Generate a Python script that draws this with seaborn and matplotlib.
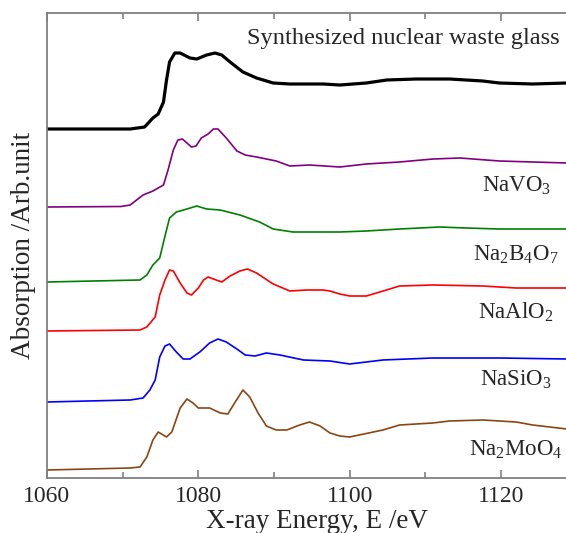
import numpy as np
import pandas as pd
import seaborn as sns
import matplotlib.pyplot as plt

# Na K-edge XANES (edge-normalised, baseline 0)
e_glass = [1060, 1071.0, 1072.9, 1074.0, 1074.7, 1075.4, 1075.8, 1076.2, 1076.9, 1077.6,
           1078.9, 1079.8, 1081.1, 1082.2, 1083.1, 1084.2, 1085.9, 1087.7, 1089.9, 1092.1,
           1094.7, 1096.5, 1098.7, 1102.2, 1104.9, 1108.8, 1113.2, 1117.6, 1119.8, 1124.2,
           1128.7]
a_glass = [0, 0, 0.02, 0.11, 0.15, 0.27, 0.49, 0.67, 0.76, 0.76,
           0.71, 0.70, 0.74, 0.76, 0.74, 0.67, 0.57, 0.51, 0.46, 0.45,
           0.45, 0.45, 0.44, 0.46, 0.49, 0.50, 0.50, 0.48, 0.46, 0.45,
           0.46]

e_navo3 = [1060, 1069.8, 1071.0, 1072.7, 1074.0, 1075.4, 1076.0, 1076.7, 1077.3, 1077.9,
           1078.5, 1079.1, 1079.7, 1080.4, 1081.3, 1082.0, 1082.6, 1083.7, 1085.1, 1086.2,
           1087.7, 1090.3, 1092.1, 1094.7, 1098.7, 1102.2, 1106.6, 1111.0, 1114.6, 1119.8,
           1124.2, 1128.7]
a_navo3 = [0, 0.005, 0.02, 0.12, 0.16, 0.22, 0.37, 0.57, 0.67, 0.68,
           0.64, 0.60, 0.61, 0.69, 0.73, 0.78, 0.78, 0.69, 0.56, 0.52,
           0.50, 0.46, 0.41, 0.42, 0.40, 0.43, 0.45, 0.48, 0.49, 0.46,
           0.45, 0.44]

e_borate = [1060, 1072.3, 1073.2, 1074.0, 1074.9, 1075.6, 1076.2, 1077.1, 1078.5, 1079.8,
            1081.1, 1082.9, 1085.5, 1088.1, 1089.9, 1092.5, 1096.0, 1098.7, 1102.2, 1106.6,
            1111.9, 1115.4, 1119.8, 1128.7]
a_borate = [0, 0.02, 0.07, 0.17, 0.24, 0.46, 0.64, 0.70, 0.73, 0.76,
            0.73, 0.72, 0.67, 0.60, 0.53, 0.50, 0.50, 0.50, 0.51, 0.53,
            0.55, 0.54, 0.53, 0.53]

e_alo2 = [1060, 1072.3, 1073.2, 1074.3, 1074.9, 1075.6, 1076.2, 1076.7, 1077.6, 1078.5,
          1079.1, 1080.0, 1080.7, 1081.3, 1082.0, 1083.1, 1084.2, 1085.5, 1086.5, 1087.7,
          1089.9, 1092.1, 1094.3, 1096.5, 1097.4, 1098.7, 1100.0, 1102.2, 1104.0, 1106.6,
          1111.0, 1117.6, 1122.0, 1128.7]
a_alo2 = [0, 0.01, 0.04, 0.14, 0.36, 0.51, 0.61, 0.60, 0.48, 0.38,
          0.36, 0.43, 0.51, 0.54, 0.52, 0.49, 0.55, 0.60, 0.62, 0.58,
          0.47, 0.40, 0.41, 0.41, 0.40, 0.37, 0.35, 0.35, 0.39, 0.45,
          0.46, 0.45, 0.43, 0.43]

e_sio3 = [1060, 1071.0, 1072.7, 1073.6, 1074.3, 1074.9, 1075.6, 1076.2, 1077.1, 1078.0,
          1078.9, 1080.2, 1081.5, 1082.6, 1083.7, 1085.1, 1086.2, 1087.5, 1089.0, 1090.8,
          1093.9, 1097.4, 1100.0, 1104.4, 1111.0, 1119.8, 1128.7]
a_sio3 = [0, 0.02, 0.04, 0.12, 0.22, 0.45, 0.56, 0.58, 0.50, 0.43,
          0.43, 0.50, 0.59, 0.63, 0.60, 0.53, 0.47, 0.46, 0.49, 0.47,
          0.42, 0.41, 0.38, 0.42, 0.44, 0.44, 0.43]

e_moo4 = [1060, 1071.0, 1072.3, 1073.2, 1074.0, 1074.7, 1075.8, 1076.5, 1077.6, 1078.5,
          1079.3, 1080.0, 1081.5, 1082.9, 1083.9, 1084.8, 1085.9, 1086.8, 1087.9, 1089.0,
          1090.3, 1091.7, 1093.4, 1094.7, 1096.1, 1097.4, 1098.7, 1100.0, 1104.4, 1106.6,
          1111.0, 1113.2, 1117.6, 1122.0, 1124.2, 1128.7]
a_moo4 = [0, 0.02, 0.03, 0.13, 0.30, 0.38, 0.33, 0.38, 0.62, 0.71,
          0.67, 0.62, 0.62, 0.57, 0.56, 0.67, 0.80, 0.73, 0.57, 0.44,
          0.40, 0.40, 0.45, 0.48, 0.44, 0.37, 0.34, 0.33, 0.40, 0.45,
          0.47, 0.49, 0.50, 0.48, 0.45, 0.41]

names = ["Synthesized nuclear waste glass", "NaVO$_3$", "Na$_2$B$_4$O$_7$",
         "NaAlO$_2$", "NaSiO$_3$", "Na$_2$MoO$_4$"]
offsets = [3.49, 2.71, 1.96, 1.47, 0.76, 0.08]
energies = [e_glass, e_navo3, e_borate, e_alo2, e_sio3, e_moo4]
absorb = [a_glass, a_navo3, a_borate, a_alo2, a_sio3, a_moo4]

colors = ["black", "#800080", "#008000", "#ff0000", "#0000ff", "#8b4513"]
widths = [2.3, 1.2, 1.2, 1.2, 1.2, 1.2]
# label anchor in axes fraction
label_pos = [(0.988, 0.946, "right"), (0.904, 0.628, "center"), (0.904, 0.480, "center"),
             (0.904, 0.357, "center"), (0.904, 0.211, "center"), (0.904, 0.060, "center")]
label_size = [17.6, 16.5, 16.5, 16.5, 16.5, 16.5]

sns.set_style("ticks")
plt.rcParams["font.family"] = ["Liberation Serif", "DejaVu Serif"]
plt.rcParams["mathtext.fontset"] = "custom"
plt.rcParams["mathtext.rm"] = "Liberation Serif"
plt.rcParams["mathtext.it"] = "Liberation Serif:italic"

fig = plt.figure(figsize=(5.66, 5.33), dpi=100)
ax = fig.add_axes([0.083, 0.1032, 0.917, 0.8724])

for i in range(len(names)):
    df = pd.DataFrame({"E": energies[i], "A": np.array(absorb[i]) + offsets[i]})
    sns.lineplot(data=df, x="E", y="A", color=colors[i], lw=widths[i], ax=ax)
    x, y, ha = label_pos[i]
    ax.text(x, y, names[i], transform=ax.transAxes, ha=ha, va="center",
            fontsize=label_size[i])

ax.set_xlim(1060, 1128.6)
ax.set_ylim(0, 4.65)
ax.set_xticks([1060, 1080, 1100, 1120])
ax.set_xticks([1070, 1090, 1110], minor=True)
ax.set_yticks([])
ax.tick_params(axis="x", which="both", direction="in", top=True, color="gray",
               labelsize=17, pad=6)
ax.tick_params(axis="x", which="major", length=6, width=1.2)
ax.tick_params(axis="x", which="minor", length=4, width=1.2)
for s in ["left", "top", "bottom"]:
    ax.spines[s].set_color("gray")
    ax.spines[s].set_linewidth(1.3)
ax.spines["right"].set_visible(False)

ax.set_xlabel("X-ray Energy, E /eV", fontsize=19.5, labelpad=1)
ax.xaxis.label.set_x(0.521)
ax.set_ylabel("Absorption /Arb.unit", fontsize=19.5, labelpad=8)

fig.savefig("out.png", dpi=100)
